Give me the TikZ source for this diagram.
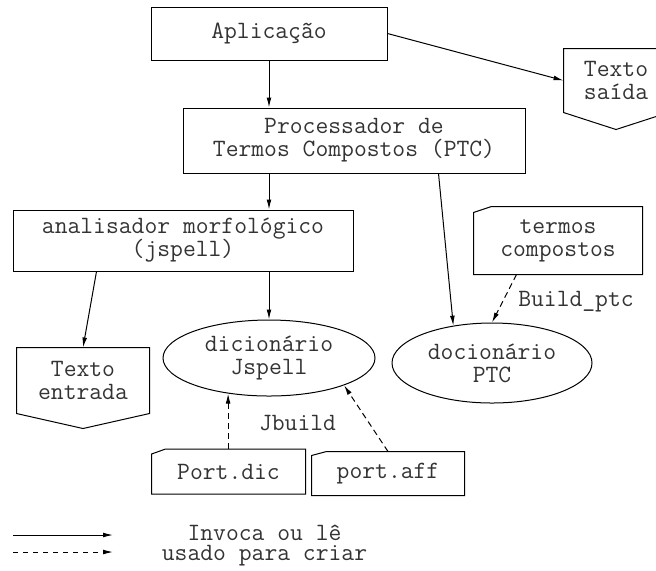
\documentclass[tikz,border=0pt]{standalone}
\usepackage{fontspec}
\usetikzlibrary{arrows.meta,shapes.geometric}
\begin{document}
\begin{tikzpicture}[x=0.5pt,y=-0.5pt,
  line width=0.5pt,
  every node/.style={font=\ttfamily\fontsize{12.45}{11.5}\selectfont, text=black!80, inner sep=0pt, align=center},
  rbox/.style 2 args={draw, minimum width=#1, minimum height=#2},
  body/.style 2 args={minimum width=#1, minimum height=#2},
  oval/.style 2 args={draw, ellipse, minimum width=#1, minimum height=#2},
  arr/.style={-{Latex[length=5pt,width=2.4pt]}},
  darr/.style={arr, dash pattern=on 3pt off 2pt}]
\useasboundingbox (0,0) rectangle (656,570);

% boxes
\node[rbox={118pt}{26.5pt}] (app) at (269,33.5) {Aplicação};
\node[rbox={171pt}{32.5pt}] (ptc) at (354,140.5) {Processador de\\Termos Compostos (PTC)};
\node[rbox={170pt}{30.5pt}] (ana) at (183,240.5) {analisador morfológico\\(jspell)};

% pentagon documents
\node[body={52pt}{31.5pt}] (saida) at (616,80.5) {Texto\\saída};
\draw (saida.north west) -- (saida.north east) -- (saida.south east)
  -- ([yshift=-8.5pt]saida.south) -- (saida.south west) -- cycle;
\node[body={66pt}{32.5pt}] (entrada) at (83,380.5) {Texto\\entrada};
\draw (entrada.north west) -- (entrada.north east) -- (entrada.south east)
  -- ([yshift=-7.5pt]entrada.south) -- (entrada.south west) -- cycle;

% ellipses
\node[oval={106pt}{38pt}] (dic) at (269,358) {dicionário\\Jspell};
\node[oval={100pt}{40pt}] (docptc) at (492,363) {docionário\\PTC};

% cards with cut corner
\node[body={84pt}{33.5pt}] (termos) at (558,240.5) {termos\\compostos};
\draw (termos.south west) -- (termos.south east) -- (termos.north east)
  -- ([xshift=9pt]termos.north west) -- ([yshift=-3pt]termos.north west) -- cycle;
\node[body={76.5pt}{22pt}] (portdic) at (228.5,471.5) {Port.dic};
\draw (portdic.south west) -- (portdic.south east) -- (portdic.north east)
  -- ([xshift=7pt]portdic.north west) -- ([yshift=-2.5pt]portdic.north west) -- cycle;
\node[body={76pt}{21.5pt}] (portaff) at (388,473.5) {port.aff};
\draw (portaff.south west) -- (portaff.south east) -- (portaff.north east)
  -- ([xshift=7.5pt]portaff.north west) -- ([yshift=-2pt]portaff.north west) -- cycle;

% labels
\node (buildptc) at (576,302) {Build\_ptc};
\node (jbuild) at (297.5,423) {Jbuild};

% connectors
\draw[arr] (app.east) -- (saida.west);
\draw[arr] (app.south) -- (app.south |- ptc.north);
\draw[arr] (dic |- ptc.south) -- (dic |- ana.north);
\draw[arr] (dic |- ana.south) -- (dic.north);
\draw[arr] ([xshift=42pt]ana.south west) -- (entrada.north);
\draw[arr] ([xshift=128pt]ptc.south west) -- (docptc.136);
\draw[darr] ([xshift=21.5pt]termos.south west) -- (docptc.north);
\draw[darr] (dic.221 |- portdic.north) -- (dic.221);
\draw[darr] (portaff.north) -- (dic.340);

% legend
\coordinate (la) at (13,535);
\coordinate (lb) at (113,535);
\coordinate (lc) at (13,552);
\coordinate (ld) at (113,552);
\draw[arr] (la) -- (lb);
\draw[darr, dash pattern=on 2.5pt off 2.5pt] (lc) -- (ld);
\node[font=\ttfamily\fontsize{12.45}{10}\selectfont] (legend) at (264.5,545) {Invoca ou lê\\usado para criar};
\end{tikzpicture}
\end{document}
